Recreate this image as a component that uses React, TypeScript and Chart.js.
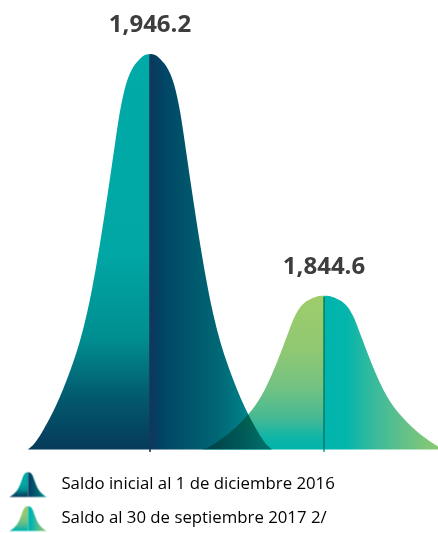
import { useEffect, useRef } from 'react';
import { Chart, registerables } from 'chart.js';

Chart.register(...registerables);

// ---- data ----
const CATEGORIES: string[] = [
  'Saldo inicial al 1 de diciembre 2016',
  'Saldo al 30 de septiembre 2017 2/',
];
const VALUES: number[] = [1946.2, 1844.6];
const POSITIONS: number[] = [0, 1];

// ---- axis configuration ----
const VALUE_AXIS_MIN = 1776;
const VALUE_AXIS_MAX = 1960;
const BAR_BASE_VALUE = 1780;
const POSITION_AXIS_MIN = -0.862;
const POSITION_AXIS_MAX = 1.655;

// ---- styles ----
type Stops = [number, string][];
interface BellStyle {
  left: Stops;
  right: Stops;
  line: string;
}

const BELL_STYLES: BellStyle[] = [
  {
    left: [
      [0, '#00AAA7'],
      [0.5, '#00A7A5'],
      [0.72, '#008E90'],
      [0.87, '#02596D'],
      [1, '#063A5B'],
    ],
    right: [
      [0, '#0B385B'],
      [0.1, '#024466'],
      [0.3, '#00556B'],
      [0.55, '#006674'],
      [0.75, '#007D86'],
      [1, '#00A3A2'],
    ],
    line: '#17375C',
  },
  {
    left: [
      [0, '#9ECC6A'],
      [0.35, '#90C873'],
      [0.6, '#72C282'],
      [0.8, '#45B995'],
      [0.92, '#10B5A6'],
      [1, '#00B4AB'],
    ],
    right: [
      [0, '#00B5AE'],
      [0.18, '#03B5AC'],
      [0.4, '#37BA9C'],
      [0.65, '#62C089'],
      [0.9, '#85C874'],
      [1, '#8ECB6E'],
    ],
    line: '#12AFA8',
  },
];

// bell outline: relative height at evenly spaced fractions (0, 0.05, ... 1) of the half width
const BELL_OUTLINE: number[] = [
  1, 0.996, 0.982, 0.96, 0.92, 0.848, 0.745, 0.64, 0.54, 0.448, 0.368, 0.302, 0.248, 0.203,
  0.162, 0.125, 0.092, 0.063, 0.036, 0.014, 0,
];

const LABEL_FONT = "700 24px 'Open Sans', sans-serif";
const LEGEND_FONT_SIZE = 16.8;
const LEGEND_PADDING = 17.2;

function fmt(v: number): string {
  return v.toLocaleString('en-US', { minimumFractionDigits: 1, maximumFractionDigits: 1 });
}

// smooth outline height (0..1) at fraction u (0..1) of the half width
function outlineAt(u: number): number {
  const n = BELL_OUTLINE.length - 1;
  const s = Math.min(Math.max(u, 0), 1) * n;
  const i = Math.min(Math.floor(s), n - 1);
  const t = s - i;
  const get = (k: number) => {
    if (k < 0) return BELL_OUTLINE[-k]; // mirror across the centre
    if (k > n) return 2 * BELL_OUTLINE[n] - BELL_OUTLINE[2 * n - k];
    return BELL_OUTLINE[k];
  };
  const p0 = get(i - 1);
  const p1 = get(i);
  const p2 = get(i + 1);
  const p3 = get(i + 2);
  const m1 = (p2 - p0) / 2;
  const m2 = (p3 - p1) / 2;
  const t2 = t * t;
  const t3 = t2 * t;
  const v =
    (2 * t3 - 3 * t2 + 1) * p1 + (t3 - 2 * t2 + t) * m1 + (-2 * t3 + 3 * t2) * p2 + (t3 - t2) * m2;
  return Math.max(0, Math.min(1, v));
}

function bellPath(ctx: CanvasRenderingContext2D, cx: number, top: number, base: number, hw: number) {
  const h = base - top;
  const steps = 120;
  ctx.beginPath();
  ctx.moveTo(cx - hw, base);
  for (let k = steps; k >= 0; k--) {
    const u = k / steps;
    ctx.lineTo(cx - u * hw, base - outlineAt(u) * h);
  }
  for (let k = 1; k <= steps; k++) {
    const u = k / steps;
    ctx.lineTo(cx + u * hw, base - outlineAt(u) * h);
  }
  ctx.closePath();
}

function drawBell(
  ctx: CanvasRenderingContext2D,
  cx: number,
  top: number,
  base: number,
  hw: number,
  style: BellStyle,
  tick: number,
  lineWidth: number
) {
  const h = base - top;
  ctx.save();
  bellPath(ctx, cx, top, base, hw);
  ctx.clip();
  const lg = ctx.createLinearGradient(0, top, 0, base);
  style.left.forEach(([o, c]) => lg.addColorStop(o, c));
  ctx.fillStyle = lg;
  ctx.fillRect(cx - hw - 2, top - 2, hw + 2, h + 4);
  const rg = ctx.createLinearGradient(cx, 0, cx + hw, 0);
  style.right.forEach(([o, c]) => rg.addColorStop(o, c));
  ctx.fillStyle = rg;
  ctx.fillRect(cx, top - 2, hw + 2, h + 4);
  ctx.restore();
  if (lineWidth > 0) {
    ctx.save();
    ctx.strokeStyle = style.line;
    ctx.lineWidth = lineWidth;
    ctx.beginPath();
    ctx.moveTo(cx, top + 1);
    ctx.lineTo(cx, base + tick);
    ctx.stroke();
    ctx.restore();
  }
}

function makeIcon(style: BellStyle): HTMLCanvasElement {
  const c = document.createElement('canvas');
  c.width = 53;
  c.height = 28;
  const ictx = c.getContext('2d') as CanvasRenderingContext2D;
  drawBell(ictx, 19.4, 1.7, 26.5, 19, style, 0, 0);
  return c;
}

const bellPlugin = {
  id: 'bellBars',
  afterDatasetsDraw(chart: any) {
    const ctx: CanvasRenderingContext2D = chart.ctx;
    const meta = chart.getDatasetMeta(0);
    meta.data.forEach((el: any, i: number) => {
      const { x, y, base, width } = el.getProps(['x', 'y', 'base', 'width'], true);
      ctx.save();
      ctx.globalCompositeOperation = i === 0 ? 'source-over' : 'multiply';
      drawBell(ctx, x, y, base, width / 2, BELL_STYLES[i % BELL_STYLES.length], 2.5, 1.6);
      ctx.restore();
    });
    ctx.save();
    ctx.font = LABEL_FONT;
    ctx.fillStyle = '#3D3D3D';
    ctx.textAlign = 'center';
    ctx.textBaseline = 'alphabetic';
    meta.data.forEach((el: any, i: number) => {
      const { x, y } = el.getProps(['x', 'y'], true);
      ctx.fillText(fmt(VALUES[i]), x, y - 21.6);
    });
    ctx.restore();
  },
};

export default function App() {
  const canvasRef = useRef<HTMLCanvasElement | null>(null);

  useEffect(() => {
    const canvas = canvasRef.current;
    if (!canvas) return;
    const icons = BELL_STYLES.map((s) => makeIcon(s));
    const chart = new Chart(canvas, {
      type: 'bar',
      data: {
        datasets: [
          {
            label: 'Saldo',
            data: VALUES.map((v, i) => ({ x: POSITIONS[i], y: v })),
            base: BAR_BASE_VALUE,
            backgroundColor: 'rgba(0,0,0,0)',
            borderWidth: 0,
            barThickness: 244,
          } as any,
        ],
      },
      options: {
        animation: false,
        responsive: true,
        maintainAspectRatio: false,
        events: [],
        layout: { padding: { top: 21.2, bottom: -3.9, left: 0, right: 0 } },
        scales: {
          x: {
            type: 'linear',
            min: POSITION_AXIS_MIN,
            max: POSITION_AXIS_MAX,
            offset: false,
            display: false,
          },
          y: {
            type: 'linear',
            min: VALUE_AXIS_MIN,
            max: VALUE_AXIS_MAX,
            display: false,
          },
        },
        plugins: {
          tooltip: { enabled: false },
          legend: {
            display: true,
            position: 'bottom',
            align: 'start',
            onClick: () => {},
            labels: {
              font: { family: "'Open Sans', sans-serif", size: LEGEND_FONT_SIZE },
              color: '#4F4F4F',
              padding: LEGEND_PADDING,
              usePointStyle: true,
              pointStyleWidth: 35.8,
              generateLabels: () =>
                CATEGORIES.map((text, i) => ({
                  text,
                  pointStyle: icons[i],
                  fillStyle: 'rgba(0,0,0,0)',
                  strokeStyle: 'rgba(0,0,0,0)',
                  lineWidth: 0,
                  hidden: false,
                  datasetIndex: 0,
                  index: i,
                })) as any,
            },
          },
        },
      } as any,
      plugins: [bellPlugin as any],
    });
    return () => chart.destroy();
  }, []);

  return (
    <div style={{ position: 'fixed', left: 0, top: 0, width: 438, height: 533, background: '#fff' }}>
      <canvas ref={canvasRef} />
    </div>
  );
}
